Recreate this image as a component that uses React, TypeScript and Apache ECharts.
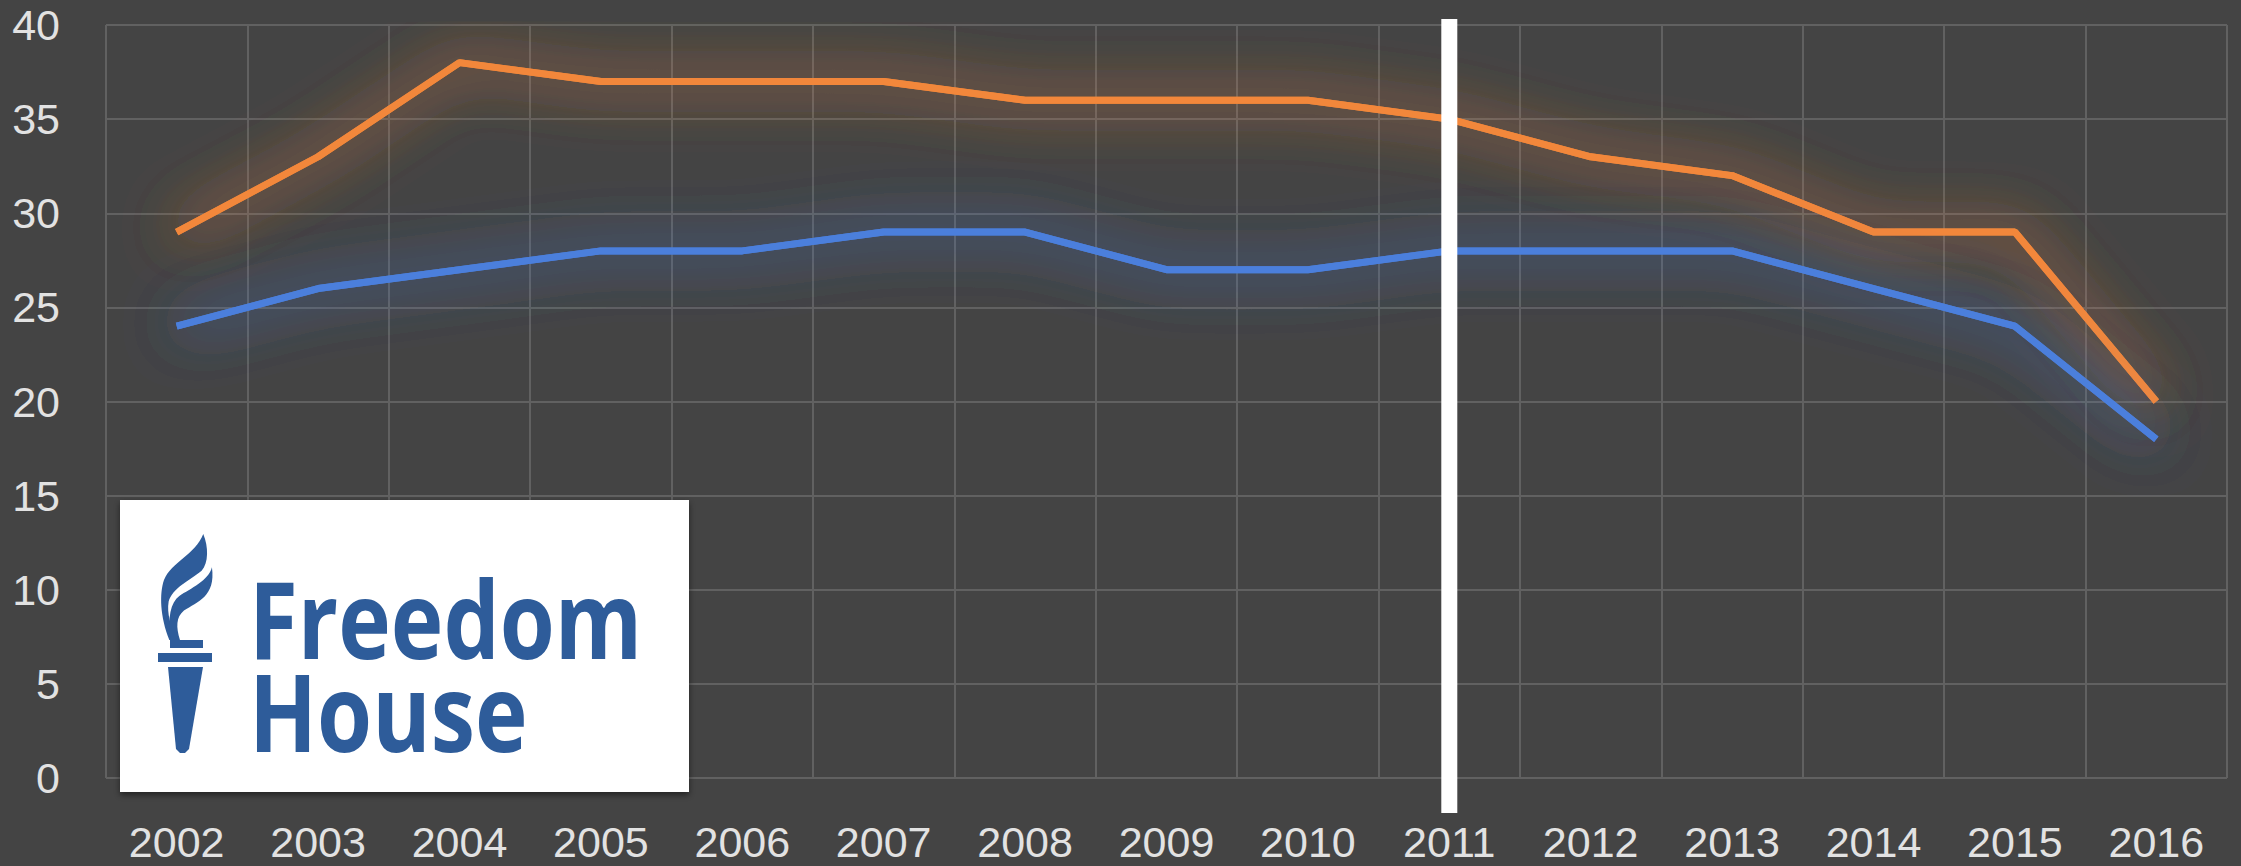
import React, { useEffect, useRef } from "react";
import * as echarts from "echarts";

// ---- data ----
const years = ["2002", "2003", "2004", "2005", "2006", "2007", "2008", "2009", "2010", "2011", "2012", "2013", "2014", "2015", "2016"];
const orangeValues = [29, 33, 38, 37, 37, 37, 36, 36, 36, 35, 33, 32, 29, 29, 20];
const blueValues = [24, 26, 27, 28, 28, 29, 29, 27, 27, 28, 28, 28, 26, 24, 18];
const yMin = 0;
const yMax = 40;
const yStep = 5;
const markerYear = "2011";
const logoWords = ["Freedom", "House"];

// ---- logo shapes (decoration) ----
const outerFlame = "M160,12 C135,75 65,95 42,150 C28,190 30,260 58,330 L82,330 C62,290 50,250 56,215 C66,175 120,150 155,122 C176,100 176,50 160,12 Z";
const innerFlame = "M186,112 C176,152 122,176 88,198 C62,218 52,262 62,330 L90,330 C78,292 78,262 102,242 C142,216 198,200 186,112 Z";
let shapesRegistered = false;
function registerShapes() {
  if (shapesRegistered) return;
  echarts.graphic.registerShape("fhFlameOuter", echarts.graphic.extendPath(outerFlame, {}));
  echarts.graphic.registerShape("fhFlameInner", echarts.graphic.extendPath(innerFlame, {}));
  shapesRegistered = true;
}

const BG = "#444444";
const GRID = "#616161";
const LABEL = "#e2e2e2";
const ORANGE = "#f2873a";
const BLUE = "#4b7fdc";
const ORANGE_GLOW = "rgba(240,133,58,0.8)";
const BLUE_GLOW = "rgba(74,126,216,0.8)";
const LOGO_BLUE = "#2e5c9a";
const LABEL_FONT = "'Liberation Sans', Arial, sans-serif";

function lineSeries(name: string, values: number[], color: string, glow: string, z: number) {
  return {
    name,
    type: "line",
    data: values,
    showSymbol: false,
    symbol: "none",
    silent: true,
    lineStyle: { color, width: 7, shadowBlur: 56, shadowColor: glow },
    z,
  };
}

export default function App() {
  const ref = useRef<HTMLDivElement>(null);
  useEffect(() => {
    document.body.style.margin = "0";
    registerShapes();
    const chart = echarts.init(ref.current!, null, { renderer: "svg" });
    chart.setOption({
      animation: false,
      backgroundColor: BG,
      grid: { left: 106, right: 14, top: 25, bottom: 88 },
      xAxis: {
        type: "category",
        data: years,
        boundaryGap: true,
        axisLine: { show: false },
        axisTick: { show: false },
        splitLine: { show: true, lineStyle: { color: GRID, width: 2 } },
        axisLabel: {
          interval: 0,
          color: LABEL,
          fontSize: 43,
          fontFamily: LABEL_FONT,
          margin: 42,
        },
      },
      yAxis: {
        type: "value",
        min: yMin,
        max: yMax,
        interval: yStep,
        axisLine: { show: false },
        axisTick: { show: false },
        splitLine: { show: true, lineStyle: { color: GRID, width: 2 } },
        axisLabel: {
          color: LABEL,
          fontSize: 43,
          lineHeight: 36,
          fontFamily: LABEL_FONT,
          margin: 46,
        },
      },
      series: [
        lineSeries("orange glow", orangeValues, ORANGE, ORANGE_GLOW, 2),
        lineSeries("blue glow", blueValues, BLUE, BLUE_GLOW, 2),
        lineSeries("orange", orangeValues, ORANGE, ORANGE_GLOW, 3),
        lineSeries("blue", blueValues, BLUE, BLUE_GLOW, 3),
      ],
    });

    const mx = chart.convertToPixel({ xAxisIndex: 0 }, markerYear) as number;
    const yTop = chart.convertToPixel({ yAxisIndex: 0 }, yMax) as number;
    const yBottom = chart.convertToPixel({ yAxisIndex: 0 }, yMin) as number;

    chart.setOption({
      graphic: [
        {
          type: "rect",
          z: 100,
          shape: { x: mx - 8, y: yTop - 6, width: 16, height: yBottom - yTop + 41 },
          style: { fill: "#ffffff" },
        },
        {
          type: "group",
          z: 100,
          children: [
            {
              type: "rect",
              shape: { x: 120, y: 500, width: 569, height: 292 },
              style: { fill: "#ffffff", shadowBlur: 6, shadowOffsetY: 3, shadowColor: "rgba(0,0,0,0.5)" },
            },
            {
              type: "fhFlameOuter",
              x: 150,
              y: 530,
              scaleX: 1 / 3,
              scaleY: 1 / 3,
              style: { fill: LOGO_BLUE },
            },
            {
              type: "fhFlameInner",
              x: 150,
              y: 530,
              scaleX: 1 / 3,
              scaleY: 1 / 3,
              style: { fill: LOGO_BLUE },
            },
            { type: "rect", shape: { x: 170, y: 640, width: 33, height: 8 }, style: { fill: LOGO_BLUE } },
            { type: "rect", shape: { x: 158, y: 653, width: 54, height: 9 }, style: { fill: LOGO_BLUE } },
            {
              type: "polygon",
              shape: { points: [[168, 667], [203, 667], [189, 749], [185, 753], [180, 753], [176, 749]] },
              style: { fill: LOGO_BLUE },
            },
            {
              type: "text",
              x: 249,
              y: 618,
              scaleY: 1.2,
              style: {
                text: logoWords[0],
                fill: LOGO_BLUE,
                fontSize: 89,
                fontWeight: 700,
                fontFamily: "'Open Sans', 'Noto Sans', sans-serif",
                verticalAlign: "middle",
                align: "left",
              },
            },
            {
              type: "text",
              x: 249,
              y: 711,
              scaleY: 1.2,
              style: {
                text: logoWords[1],
                fill: LOGO_BLUE,
                fontSize: 89,
                fontWeight: 700,
                fontFamily: "'Open Sans', 'Noto Sans', sans-serif",
                verticalAlign: "middle",
                align: "left",
              },
            },
          ],
        },
      ],
    });
    return () => chart.dispose();
  }, []);
  return <div ref={ref} style={{ width: 2241, height: 866 }} />;
}
